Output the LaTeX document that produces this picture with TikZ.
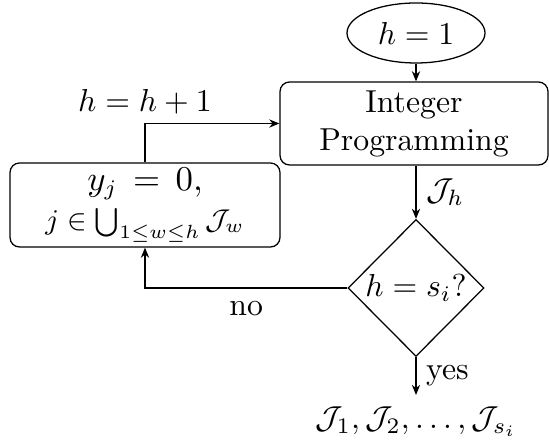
\documentclass[tikz,border=0pt]{standalone}
\usepackage{amsmath,amssymb}
\usetikzlibrary{shapes.geometric,arrows.meta}
\begin{document}
\begin{tikzpicture}[x=0.315pt,y=-0.315pt,
  every node/.style={inner sep=0pt},
  procbox/.style={draw,rounded corners=3pt,align=center},
  startell/.style={draw,ellipse},
  decide/.style={draw,diamond,aspect=1},
  conn/.style={-{Stealth[length=3.2pt,width=2.6pt]},line width=0.4pt},
  lbl/.style={inner sep=1pt}]
\useasboundingbox (0,0) rectangle (549,448);
\node[startell,minimum width=138*0.315pt,minimum height=60*0.315pt] (start) at (416,33) {$h=1$};
\node[procbox,minimum width=268*0.315pt,minimum height=83*0.315pt] (ip) at (414,123.5) {Integer\\Programming};
\node[decide,minimum width=136*0.315pt,minimum height=137*0.315pt] (dec) at (416,288) {$h=s_i?$};
\node[procbox,minimum width=270*0.315pt,minimum height=84*0.315pt] (yz) at (145,205) {{\fontsize{10.5}{12}\selectfont$y_j\,=\,0,$}\\[0.5pt]{\small$j\in\bigcup_{1\le w\le h}\mathcal{J}_w$}};
\node (out) at (416,422) {$\mathcal{J}_1,\mathcal{J}_2,\ldots,\mathcal{J}_{s_i}$};
\coordinate (outtop) at (416,395);
\draw[conn] (start) -- (ip.north -| start);
\draw[conn] (ip.south -| dec) -- node[right,lbl,xshift=2pt]{$\mathcal{J}_h$} (dec.north);
\draw[conn] (dec.south) -- node[right,lbl,xshift=2pt]{yes} (outtop);
\draw[conn] (dec.west) -| node[pos=0.25,below,lbl,yshift=-3pt]{no} (yz.south);
\draw[conn] (yz.north) |- node[pos=0.25,above,lbl,yshift=8pt]{$h=h+1$} (ip.west);
\end{tikzpicture}
\end{document}
